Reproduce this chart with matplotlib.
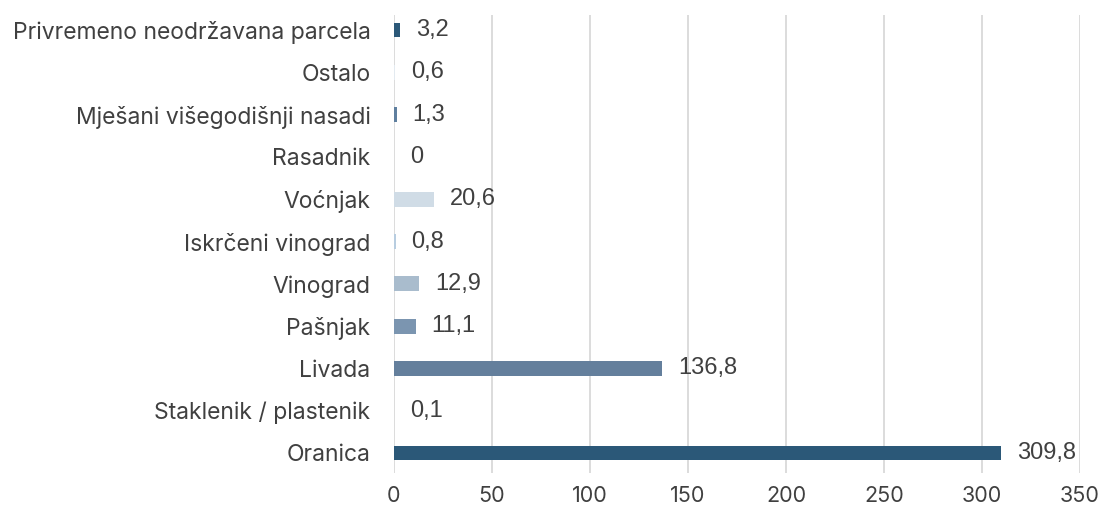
import matplotlib
matplotlib.use("Agg")
import matplotlib.pyplot as plt

# Land use categories (bottom to top) and area values
categories = [
    "Oranica",
    "Staklenik / plastenik",
    "Livada",
    "Pašnjak",
    "Vinograd",
    "Iskrčeni vinograd",
    "Voćnjak",
    "Rasadnik",
    "Mješani višegodišnji nasadi",
    "Ostalo",
    "Privremeno neodržavana parcela",
]
values = [309.8, 0.1, 136.8, 11.1, 12.9, 0.8, 20.6, 0.0, 1.3, 0.6, 3.2]
value_labels = ["309,8", "0,1", "136,8", "11,1", "12,9", "0,8", "20,6", "0", "1,3", "0,6", "3,2"]
bar_colors = [
    "#2b5878", "#3a6587", "#647f9c", "#7b95b0", "#a9bccd", "#b8cde0",
    "#d0dce6", "#c4d2df", "#5f7f9f", "#e3eaf0", "#2b5878",
]
x_ticks = [0, 50, 100, 150, 200, 250, 300, 350]

text_color = "#404040"
label_font = ["Inter", "DejaVu Sans"]
value_font = ["Liberation Sans", "DejaVu Sans"]

fig = plt.figure(figsize=(11.02, 5.15), dpi=100)
ax = fig.add_axes([394 / 1102, 1 - 473 / 515, (1080 - 394) / 1102, (473 - 15) / 515])

pos = list(range(len(categories)))
ax.barh(pos, values, height=0.35, color=bar_colors, zorder=3)

ax.set_xlim(0, 350)
ax.set_ylim(-0.473, 10.355)
ax.set_xticks(x_ticks)
ax.set_yticks(pos)
ax.set_yticklabels(categories, fontsize=16.5, color=text_color, family=label_font)
ax.set_xticklabels([str(t) for t in x_ticks], fontsize=15.5, color=text_color, family=label_font)

ax.grid(axis="x", color="#d9d9d9", linewidth=1.3, zorder=0)
for s in ax.spines.values():
    s.set_visible(False)
ax.tick_params(axis="both", length=0)
ax.tick_params(axis="y", pad=17)
ax.tick_params(axis="x", pad=9)

for y, v, lab in zip(pos, values, value_labels):
    ax.annotate(lab, xy=(v, y), xytext=(11.5, 0), textcoords="offset points",
                ha="left", va="center", fontsize=17, color=text_color,
                family=value_font, zorder=4)

fig.savefig("out.png", dpi=100, facecolor="white")
